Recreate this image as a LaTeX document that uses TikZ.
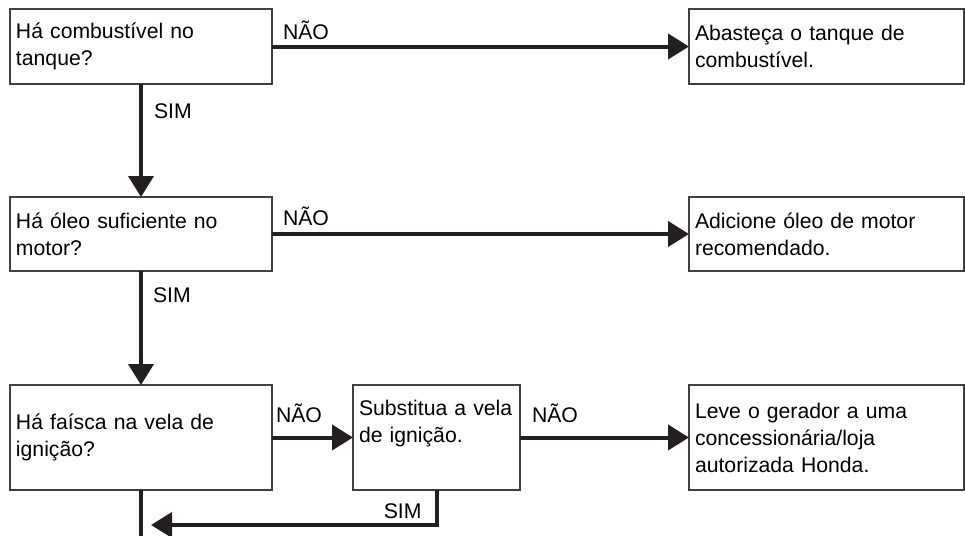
\documentclass[tikz,border=0pt]{standalone}
\usepackage{fontspec}
\setmainfont{Liberation Sans}
\usetikzlibrary{arrows.meta,positioning}
\definecolor{ink}{RGB}{35,31,32}
\definecolor{frame}{RGB}{64,64,64}
\tikzset{
  box/.style={draw=frame, line width=0.75pt, outer sep=0pt, inner xsep=3pt,
    align=left, font=\fontsize{10.6}{13.5}\selectfont},
  flow/.style={draw=ink, line width=2pt, -{Triangle[length=10.5pt,width=12.5pt]}},
  wire/.style={draw=ink, line width=2pt},
  lbl/.style={inner sep=0pt, outer sep=0pt, font=\fontsize{10.6}{13.5}\selectfont},
}
\begin{document}
\begin{tikzpicture}[x=0.5pt, y=-0.5pt]
\useasboundingbox (0,0) rectangle (965,536);
% checks on the left
\node[box, minimum width=131pt, minimum height=37.5pt, text width=125pt] (fuel) at (141,46.5) {Há combustível no\\tanque?};
\node[box, minimum width=131pt, minimum height=37pt, text width=125pt] (oil) at (141,234) {Há óleo suficiente no\\motor?};
\node[box, minimum width=131pt, minimum height=52.5pt, text width=125pt] (spark) at (141,437.5) {Há faísca na vela de\\ignição?};
\node[box, minimum width=83.5pt, minimum height=52.5pt, text width=77.5pt, text depth=29.2pt] (plug) at (436.5,437.5) {Substitua a vela\\de ignição.};
% actions on the right
\node[box, minimum width=137.5pt, minimum height=37.5pt, text width=131.5pt] (refuel) at (826.5,46.5) {Abasteça o tanque de\\combustível.};
\node[box, minimum width=137.5pt, minimum height=37pt, text width=131.5pt] (addoil) at (826.5,234) {Adicione óleo de motor\\recomendado.};
\node[box, minimum width=137.5pt, minimum height=52.5pt, text width=131.5pt] (help) at (826.5,437.5) {Leve o gerador a uma\\concessionária/loja\\autorizada Honda.};
\coordinate (down) at (141,536);
\coordinate (ret) at (151,525);
\coordinate (bend) at (plug.south |- ret);
% connectors
\draw[flow] (fuel) -- (refuel);
\draw[flow] (oil) -- (addoil);
\draw[flow] (spark) -- (plug);
\draw[flow] (plug) -- (help);
\draw[flow] (fuel) -- (oil);
\draw[flow] (oil) -- (spark);
\draw[wire] (spark) -- (down);
\draw[flow] (plug.south) |- (ret);
% labels
\node[lbl, above right=3.3pt and 5.5pt of fuel.east] (no1) {NÃO};
\node[lbl, above right=4pt and 5.5pt of oil.east] (no2) {NÃO};
\node[lbl, above right=7.5pt and 2pt of spark.east] (no3) {NÃO};
\node[lbl, above right=7.5pt and 6pt of plug.east] (no4) {NÃO};
\node[lbl, below right=10pt and 6.5pt of fuel.south] (yes1) {SIM};
\node[lbl, below right=8.5pt and 6pt of oil.south] (yes2) {SIM};
\node[lbl, above left=3pt and 7.5pt of bend] (yes3) {SIM};
\end{tikzpicture}
\end{document}
